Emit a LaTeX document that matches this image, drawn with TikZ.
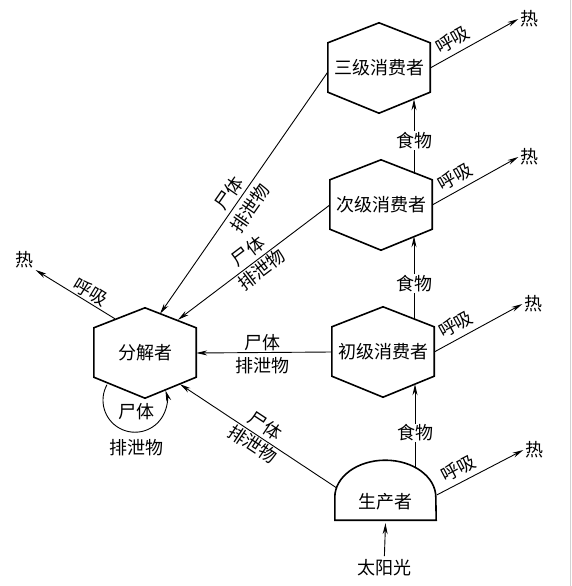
\documentclass[tikz,border=0pt]{standalone}
\usepackage{fontspec}
\setmainfont{Noto Sans CJK SC}
\usetikzlibrary{arrows.meta,calc}
\tikzset{
  every node/.style={font=\fontsize{18}{21}\selectfont},
  hexbox/.style={minimum width=102pt, minimum height=90pt, inner sep=0pt},
  domebox/.style={minimum width=101pt, minimum height=36pt, inner sep=0pt},
  outline/.style={line width=1.6pt, line join=miter},
  conn/.style={line width=0.9pt, -{Stealth[length=11pt,width=5pt]}},
  lbl/.style={inner sep=1pt},
  heat/.style={inner sep=1.5pt},
}
\newcommand{\hexout}[1]{\draw[outline] (#1.north) -- ([yshift=-20pt]#1.north east) -- ([yshift=21pt]#1.south east) -- (#1.south) -- ([yshift=21pt]#1.south west) -- ([yshift=-20pt]#1.north west) -- cycle;}
\begin{document}
\begin{tikzpicture}[x=1pt,y=1pt]
\useasboundingbox (0,0) rectangle (572,-586);
\draw[gray!35, line width=0.8pt] (570,0) -- (570,-586);
% nodes
\node[hexbox] (c3) at (379,-68) {三级消费者};
\node[hexbox] (c2) at (381,-205) {次级消费者};
\node[hexbox] (c1) at (383,-352) {初级消费者};
\node[hexbox] (dec) at (145,-353) {分解者};
\node[domebox] (prod) at (385.5,-502) {生产者};
\node (sun) at (384,-568) {太阳光};
\node[heat] (h3) at (529,-19) {热};
\node[heat] (h2) at (529,-157) {热};
\node[heat] (h1) at (533,-304) {热};
\node[heat] (hp) at (534,-450) {热};
\node[heat] (hd) at (25,-260) {热};
% outlines
\hexout{c3}
\hexout{c2}
\hexout{c1}
\hexout{dec}
\draw[outline] (prod.south west) -- ++(0,23) arc[start angle=180, end angle=0, x radius=50.5, y radius=37] -- (prod.south east) -- cycle;
% respiration
\draw[conn] (c3.east) -- node[lbl, sloped, above=4pt, pos=0.33] {呼吸} (h3.west);
\draw[conn] (c2.east) -- node[lbl, sloped, above=4pt, pos=0.34] {呼吸} (h2.west);
\draw[conn] (c1.east) -- node[lbl, sloped, above=4.5pt, pos=0.32] {呼吸} (h1.west);
\draw[conn] ([xshift=0.5pt,yshift=7pt]prod.east) -- node[lbl, sloped, above=4pt, pos=0.32] {呼吸} (hp.west);
\draw[conn] ([xshift=-30pt,yshift=-11pt]dec.north) -- node[lbl, sloped, above=0.5pt, pos=0.375] {呼吸} (hd.south east);
% dead bodies / excretion to decomposer
\draw[conn] ([yshift=-4pt]c3.west) -- node[lbl, sloped, above=2.5pt, pos=0.53] {尸体} node[lbl, sloped, below=4pt, pos=0.53] {排泄物} ([xshift=15pt,yshift=-6pt]dec.north);
\draw[conn] (c2.west) -- node[lbl, sloped, above=2.5pt, pos=0.49] {尸体} node[lbl, sloped, below=0.5pt, pos=0.49] {排泄物} ([xshift=33pt,yshift=-12pt]dec.north);
\draw[conn] (c1.west) -- node[lbl, above=0.5pt, pos=0.51] {尸体} node[lbl, below=3pt, pos=0.51] {排泄物} (dec.east);
\draw[conn] ([xshift=2pt,yshift=14pt]prod.west) -- node[lbl, sloped, above=2.5pt, pos=0.5] {尸体} node[lbl, sloped, below=0pt, pos=0.5] {排泄物} ([xshift=35pt,yshift=14pt]dec.south);
% self loop
\draw[conn] ([xshift=-38pt,yshift=13.5pt]dec.south) arc[start angle=151, end angle=378, radius=32];
\node[lbl] (loopa) at ([xshift=-9pt,yshift=-13pt]dec.south) {尸体};
\node[lbl] (loopb) at ([xshift=-9pt,yshift=-49pt]dec.south) {排泄物};
% food
\draw[conn] ([xshift=29.5pt,yshift=17pt]prod.north) -- node[lbl, fill=white, pos=0.41] {食物} ([xshift=32pt,yshift=13pt]c1.south);
\draw[conn] ([xshift=31pt,yshift=-13.5pt]c1.north) -- node[lbl, fill=white, pos=0.44] {食物} ([xshift=33pt,yshift=14pt]c2.south);
\draw[conn] ([xshift=33pt,yshift=-14pt]c2.north) -- node[lbl, fill=white, pos=0.45] {食物} ([xshift=35pt,yshift=14pt]c3.south);
% sunlight
\draw[conn] (sun) -- ([yshift=-3pt]prod.south);
\end{tikzpicture}
\end{document}
